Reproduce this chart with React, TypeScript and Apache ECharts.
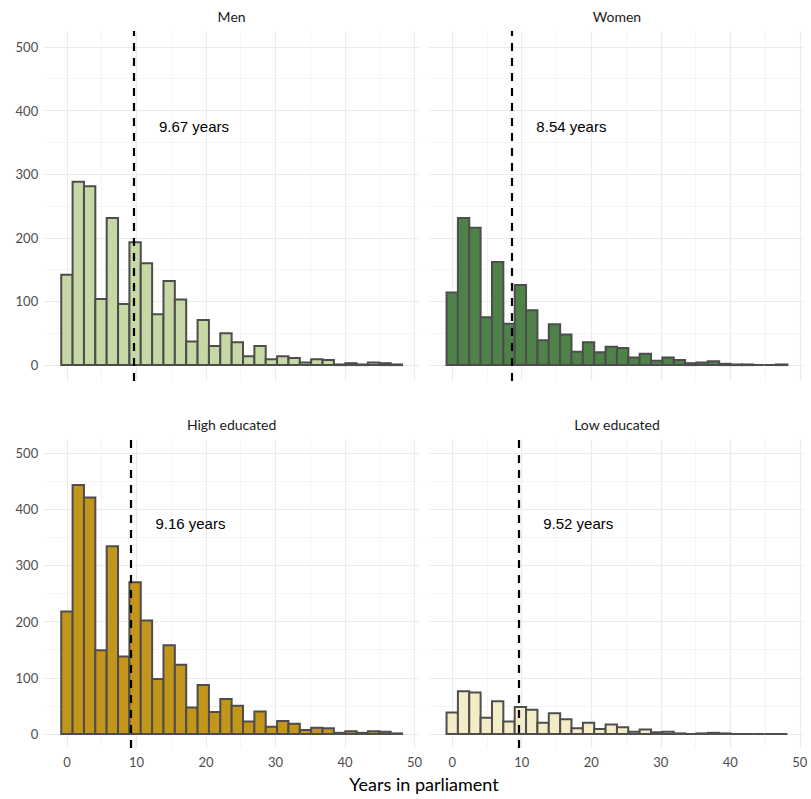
import React, { useEffect, useRef } from "react";
import * as echarts from "echarts";

// ---- data (histogram counts, 30 bins) ----
const panelTitles = ["Men", "Women", "High educated", "Low educated"];
const menCounts = [142, 288, 281, 104, 231, 96, 193, 160, 80, 132, 103, 37, 71, 30, 50, 36, 14, 30, 9, 14, 11, 4, 9, 8, 1, 3, 1, 4, 3, 1];
const womenCounts = [114, 231, 216, 75, 162, 65, 126, 86, 39, 64, 48, 21, 36, 20, 29, 27, 12, 18, 7, 12, 8, 3, 4, 6, 2, 1, 1, 0, 0, 1];
const highCounts = [218, 443, 421, 149, 334, 138, 270, 202, 98, 158, 123, 47, 87, 39, 62, 50, 22, 40, 13, 23, 18, 7, 11, 10, 2, 5, 2, 5, 4, 1];
const lowCounts = [38, 76, 74, 29, 58, 22, 48, 43, 20, 37, 26, 10, 20, 9, 17, 12, 4, 8, 3, 4, 1, 0, 1, 2, 1, 0, 0, 0, 0, 0];
const meanYears = [9.67, 8.54, 9.16, 9.52];
const xTicks = [0, 10, 20, 30, 40, 50];
const yTicks = [0, 100, 200, 300, 400, 500];
const xMinor = [5, 15, 25, 35, 45];
const yMinor = [50, 150, 250, 350, 450];

const binWidth = 1.634;
const binStart = -binWidth / 2;
const labelY = 375;
const labelOffset = 8.6;

const fills = ["#C6D8A4", "#4E8249", "#C4951B", "#F4ECC7"];
const allCounts = [menCounts, womenCounts, highCounts, lowCounts];

export default function App() {
  const ref = useRef<HTMLDivElement>(null);
  useEffect(() => {
    document.body.style.margin = "0";
    const chart = echarts.init(ref.current!, undefined, { renderer: "svg" });

    const panelW = 374.9;
    const lefts = [44.2, 429.5, 44.2, 429.5];
    const tops = [31, 31, 439, 439];
    const heights = [350, 350, 309, 309];

    const grids = lefts.map((l, i) => ({ left: l, top: tops[i], width: panelW, height: heights[i], containLabel: false }));
    const xAxes = lefts.map((_, i) => ({
      type: "value",
      gridIndex: i,
      min: binStart - 1.5 * binWidth,
      max: binStart + 30 * binWidth + 1.5 * binWidth,
      axisLine: { show: false },
      axisTick: { show: false },
      splitLine: { show: false },
      axisLabel: {
        show: i >= 2,
        customValues: xTicks,
        color: "#4D4D4D",
        fontFamily: "Lato",
        fontSize: 13,
        margin: 7,
      },
    }));
    const yAxes = lefts.map((_, i) => ({
      type: "value",
      gridIndex: i,
      min: -25,
      max: 525,
      axisLine: { show: false },
      axisTick: { show: false },
      splitLine: { show: false },
      axisLabel: {
        show: i % 2 === 0,
        customValues: yTicks,
        color: "#4D4D4D",
        fontFamily: "Lato",
        fontSize: 13,
        margin: 6,
      },
    }));

    const series: any[] = [];
    allCounts.forEach((counts, i) => {
      // grid lines
      series.push({
        type: "line",
        xAxisIndex: i,
        yAxisIndex: i,
        data: [],
        silent: true,
        z: 0,
        markLine: {
          z: 0,
          silent: true,
          symbol: "none",
          label: { show: false },
          animation: false,
          data: [
            ...xMinor.map((v) => ({ xAxis: v, lineStyle: { color: "#F0F0F0", width: 0.7, type: "solid" } })),
            ...yMinor.map((v) => ({ yAxis: v, lineStyle: { color: "#F0F0F0", width: 0.7, type: "solid" } })),
            ...xTicks.map((v) => ({ xAxis: v, lineStyle: { color: "#EBEBEB", width: 1.1, type: "solid" } })),
            ...yTicks.map((v) => ({ yAxis: v, lineStyle: { color: "#EBEBEB", width: 1.1, type: "solid" } })),
          ],
        },
      });
      // histogram bars
      series.push({
        type: "custom",
        xAxisIndex: i,
        yAxisIndex: i,
        z: 10,
        data: counts.map((c, k) => [binStart + k * binWidth, binStart + (k + 1) * binWidth, c]),
        renderItem: (params: any, api: any) => {
          const p0 = api.coord([api.value(0), api.value(2)]);
          const p1 = api.coord([api.value(1), 0]);
          return {
            type: "rect",
            shape: { x: p0[0], y: p0[1], width: p1[0] - p0[0], height: p1[1] - p0[1] },
            style: { fill: fills[i], stroke: "#4D4D4D", lineWidth: 2 },
          };
        },
      });
      // mean line + label
      series.push({
        type: "scatter",
        xAxisIndex: i,
        yAxisIndex: i,
        z: 20,
        symbolSize: 0,
        silent: true,
        itemStyle: { opacity: 1, color: "#000000" },
        data: [[meanYears[i] + labelOffset, labelY]],
        label: {
          show: true,
          position: "inside",
          formatter: `${meanYears[i].toFixed(2)} years`,
          fontFamily: "Liberation Sans",
          fontSize: 15,
          color: "#000000",
          opacity: 1,
          textBorderWidth: 0,
        },
        markLine: {
          z: 20,
          silent: true,
          symbol: "none",
          label: { show: false },
          data: [{ xAxis: meanYears[i] }],
          lineStyle: { color: "#000000", width: 2.2, type: [8, 7], opacity: 1 },
        },
      });
    });

    const stripX = [231.6, 617, 231.6, 617];
    const stripY = [16, 16, 424, 424];
    const graphic: any[] = panelTitles.map((t, i) => ({
      type: "text",
      x: stripX[i],
      y: stripY[i],
      style: {
        text: t,
        textAlign: "center",
        textVerticalAlign: "middle",
        fontFamily: "Lato",
        fontSize: 14,
        fill: "#1A1A1A",
      },
    }));
    graphic.push({
      type: "text",
      x: 424,
      y: 784,
      style: {
        text: "Years in parliament",
        textAlign: "center",
        textVerticalAlign: "middle",
        fontFamily: "Lato",
        fontSize: 18,
        fill: "#000000",
      },
    });

    chart.setOption({
      animation: false,
      backgroundColor: "#FFFFFF",
      grid: grids,
      xAxis: xAxes,
      yAxis: yAxes,
      series,
      graphic,
    });
    return () => chart.dispose();
  }, []);
  return <div ref={ref} style={{ width: 811, height: 799 }} />;
}
